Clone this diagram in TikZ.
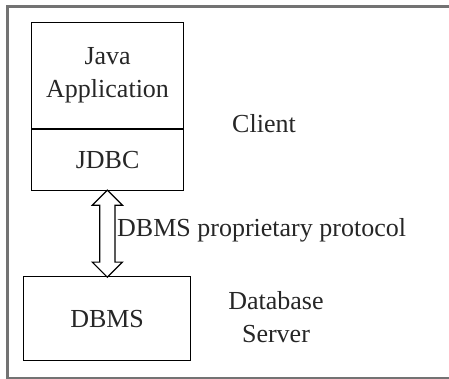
\documentclass[tikz,border=0pt]{standalone}
\usepackage{fontspec}
\setmainfont{Liberation Serif}
\usetikzlibrary{calc}
\usetikzlibrary{shapes.arrows}

\begin{document}
\begin{tikzpicture}[x=1pt,y=-1pt,
    box/.style={draw,line width=1.2pt,inner sep=0pt},
    lbl/.style={font=\fontsize{26}{33}\selectfont,align=center,text=black!85}]
                    \useasboundingbox (0,0) rectangle (449,379);
                    \draw[line width=3pt,black!55] (460,7) -- (7,7) -- (7,378) -- (460,378);
                    \draw (31,22) node[box,anchor=north west,minimum width=152pt,minimum height=106pt,name=app] {};
                    \draw (app.south west) node[box,anchor=north west,minimum width=152pt,minimum height=61pt,name=jdbc] {};
                    \draw (23,276) node[box,anchor=north west,minimum width=167pt,minimum height=84pt,name=db] {};
                    \draw (app.center) node[lbl] {Java\\Application};
                    \draw (jdbc.center) node[lbl] {JDBC};
                    \draw (db.center) node[lbl] {DBMS};
                    \draw ($ (jdbc.south) !0.5! (db.north) $) node[draw,line width=1.2pt,double arrow,rotate=90,
                        minimum height=87pt,inner sep=7pt,double arrow head extend=7.5pt,name=link] {};
                    \draw (117,230) node[lbl,anchor=west,inner sep=0pt,name=proto] {DBMS proprietary protocol};
                    \draw (264,124) node[lbl,name=client] {Client};
                    \draw (276,317) node[lbl,name=server] {Database\\Server};
                \end{tikzpicture}
\end{document}
